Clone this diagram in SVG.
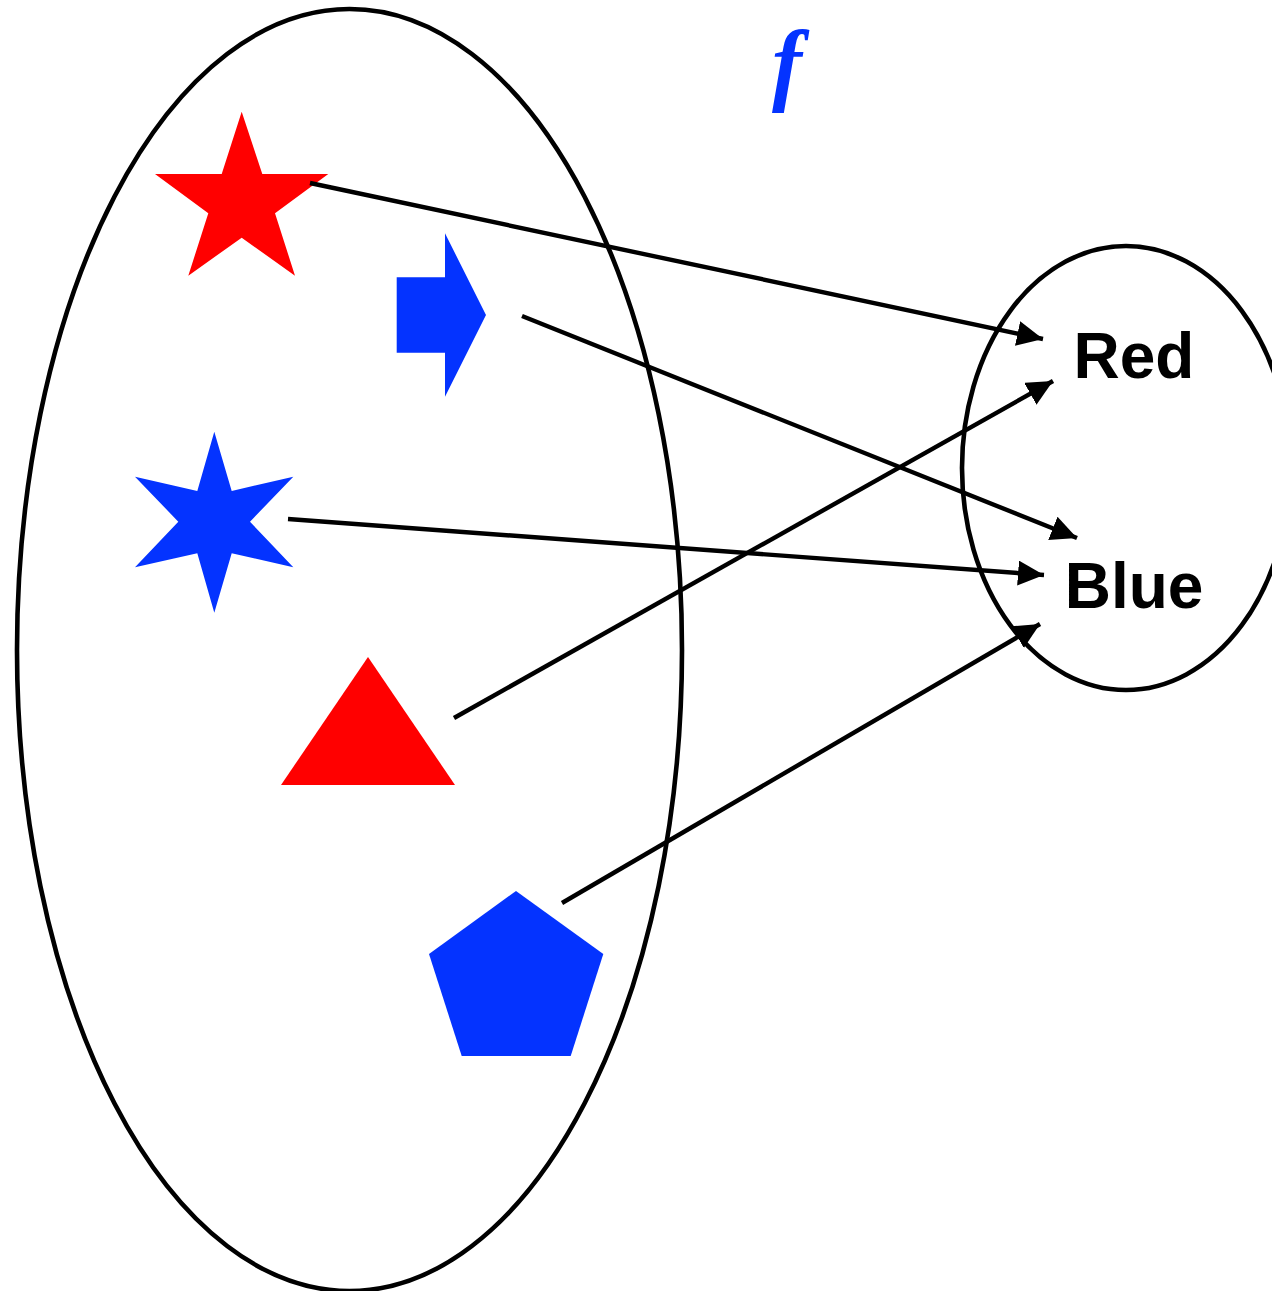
<svg xmlns="http://www.w3.org/2000/svg" width="1272" height="1291" viewBox="0 0 1272 1291">
<style>
.set{fill:none;stroke:#000;stroke-width:4.6}
.red{fill:#ff0000}
.blue{fill:#0433ff}
.lbl{font-family:"Liberation Sans",Arial,sans-serif;font-weight:bold;font-size:64px;fill:#000;text-anchor:middle}
.fn{font-family:"Liberation Serif","Times New Roman",serif;font-style:italic;font-weight:bold;font-size:90px;fill:#0433ff;text-anchor:middle}
.conn{fill:none;stroke:#000;stroke-width:4.4}
</style>
<defs>
<marker id="ah" markerUnits="userSpaceOnUse" markerWidth="28" markerHeight="26" refX="26" refY="12.5" orient="auto">
<path d="M0,0 L26,12.5 L0,25 z" fill="#000"/>
</marker>
</defs>
<rect width="1272" height="1291" fill="#fff"/>
<g id="domain"><ellipse class="set" cx="349.5" cy="650" rx="332.5" ry="641"/></g>
<g id="codomain"><ellipse class="set" cx="1126" cy="468" rx="164" ry="222"/></g>
<g id="label-f"><text class="fn" x="787" y="94">f</text></g>
<g id="red-star"><polygon class="red" points="241.7,111.7 262.3,174 328.3,174 275,213.3 295,275.7 241.7,237.7 188.3,275.7 208.3,213.3 155,174 221.7,174"/></g>
<g id="blue-arrow"><polygon class="blue" points="396.7,277.3 445,277.3 445,233.3 486,315 445,396.7 445,352.7 396.7,352.7"/></g>
<g id="blue-hexstar"><polygon class="blue" points="214.3,431.7 231.7,491 293.3,476.7 250,521.7 293.3,567.3 231.7,553.3 214.3,612.7 197.3,553.3 135,567.3 178.3,521.7 135,476.7 197.3,491"/></g>
<g id="red-triangle"><polygon class="red" points="368,657 455,785 281,785"/></g>
<g id="blue-pentagon"><polygon class="blue" points="516,891 603.3,954 570.7,1056 461.7,1056 429,954"/></g>
<g id="node-red"><text class="lbl" x="1134" y="378">Red</text></g>
<g id="node-blue"><text class="lbl" x="1134" y="608">Blue</text></g>
<g id="connectors">
<line class="conn" x1="310" y1="183" x2="1043" y2="339" marker-end="url(#ah)"/>
<line class="conn" x1="522" y1="316" x2="1077" y2="538" marker-end="url(#ah)"/>
<line class="conn" x1="288" y1="519" x2="1044" y2="575" marker-end="url(#ah)"/>
<line class="conn" x1="454" y1="718" x2="1053" y2="381" marker-end="url(#ah)"/>
<line class="conn" x1="562" y1="903" x2="1040" y2="624" marker-end="url(#ah)"/>
</g>
</svg>
